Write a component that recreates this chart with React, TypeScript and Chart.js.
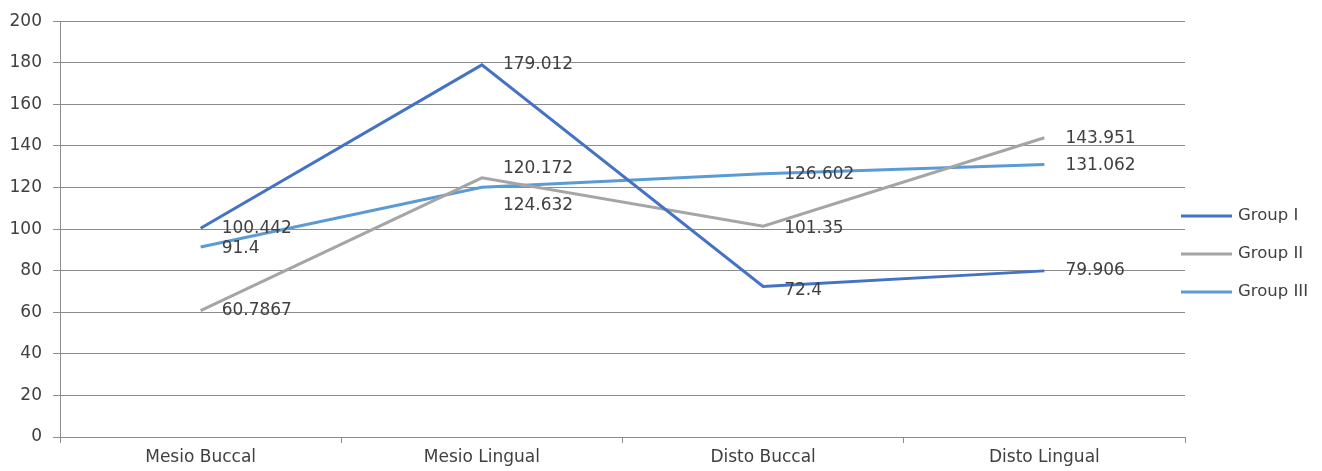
import React, { useEffect, useRef } from "react";
import { Chart, registerables } from "chart.js";

Chart.register(...registerables);

const categories = ["Mesio Buccal", "Mesio Lingual", "Disto Buccal", "Disto Lingual"];
const groupI = [100.442, 179.012, 72.4, 79.906];
const groupII = [60.7867, 124.632, 101.35, 143.951];
const groupIII = [91.4, 120.172, 126.602, 131.062];
const labelsI = ["100.442", "179.012", "72.4", "79.906"];
const labelsII = ["60.7867", "124.632", "101.35", "143.951"];
const labelsIII = ["91.4", "120.172", "126.602", "131.062"];
const seriesNames = ["Group I", "Group II", "Group III"];
const yTicks = [0, 20, 40, 60, 80, 100, 120, 140, 160, 180, 200];

const COLORS = ["#4472C4", "#A5A5A5", "#5B9BD5"];
const FONT = "'DejaVu Sans', sans-serif";
const TEXT = "#404040";
// vertical nudges of value labels (style only)
const labelDy = [
  [0, 0, 4, 0],
  [0, 28, 2, 1],
  [2, -19, 1, 1],
];

const labelPlugin = {
  id: "valueLabels",
  afterDatasetsDraw(chart: any) {
    const ctx = chart.ctx;
    const texts = [labelsI, labelsII, labelsIII];
    ctx.save();
    ctx.font = `17px ${FONT}`;
    ctx.fillStyle = TEXT;
    ctx.textAlign = "left";
    ctx.textBaseline = "middle";
    chart.data.datasets.forEach((ds: any, i: number) => {
      const meta = chart.getDatasetMeta(i);
      meta.data.forEach((pt: any, j: number) => {
        ctx.fillText(texts[i][j], pt.x + 21, pt.y + labelDy[i][j]);
      });
    });
    ctx.restore();
  },
};

const legendPlugin = {
  id: "customLegend",
  afterDraw(chart: any) {
    const ctx = chart.ctx;
    ctx.save();
    ctx.font = `16.5px ${FONT}`;
    ctx.textBaseline = "middle";
    ctx.textAlign = "left";
    seriesNames.forEach((name, i) => {
      const y = 216 + i * 38;
      ctx.strokeStyle = COLORS[i];
      ctx.lineWidth = 3;
      ctx.beginPath();
      ctx.moveTo(1181, y);
      ctx.lineTo(1232, y);
      ctx.stroke();
      ctx.fillStyle = TEXT;
      ctx.fillText(name, 1238, y);
    });
    ctx.restore();
  },
};

export default function App() {
  const ref = useRef<HTMLCanvasElement>(null);
  useEffect(() => {
    document.body.style.margin = "0";
    const chart = new Chart(ref.current!, {
      type: "line",
      data: {
        labels: categories,
        datasets: [groupI, groupII, groupIII].map((d, i) => ({
          label: seriesNames[i],
          data: d,
          borderColor: COLORS[i],
          backgroundColor: COLORS[i],
          borderWidth: 3,
          pointRadius: 0,
          tension: 0,
        })),
      },
      options: {
        animation: false,
        responsive: false,
        layout: { padding: { top: 18, right: 137, left: 0, bottom: 0 } },
        plugins: { legend: { display: false }, tooltip: { enabled: false } },
        scales: {
          x: {
            type: "category",
            offset: true,
            grid: {
              offset: true,
              drawOnChartArea: false,
              drawTicks: true,
              tickLength: 6,
              color: "#8c8c8c",
            },
            border: { color: "#8c8c8c", width: 1 },
            ticks: { color: TEXT, font: { family: FONT, size: 17 }, padding: 4, maxRotation: 0 },
            afterFit(scale: any) {
              scale.height = 34;
            },
          },
          y: {
            min: 0,
            max: 200,
            afterBuildTicks(scale: any) {
              scale.ticks = yTicks.map((v) => ({ value: v }));
            },
            grid: { color: "#8c8c8c", drawTicks: true, tickLength: 7 },
            border: { color: "#8c8c8c", width: 1 },
            ticks: { color: TEXT, font: { family: FONT, size: 17 }, padding: 11 },
            afterFit(scale: any) {
              scale.width = 60;
            },
          },
        },
      },
      plugins: [labelPlugin, legendPlugin],
    } as any);
    return () => chart.destroy();
  }, []);
  return (
    <div style={{ width: 1322, height: 471, background: "#fff" }}>
      <canvas ref={ref} width={1322} height={471} style={{ display: "block" }} />
    </div>
  );
}
